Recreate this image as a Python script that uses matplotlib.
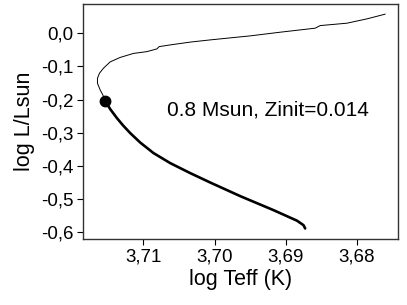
import matplotlib
matplotlib.use("Agg")
import matplotlib.pyplot as plt
from matplotlib.ticker import FuncFormatter

plt.rcParams['font.family'] = ['Liberation Sans', 'DejaVu Sans']

# thin part of the track (from the dot upwards)
teff_thin = [3.71539, 3.71571, 3.71609, 3.71647, 3.71647, 3.71619, 3.71563,
             3.71469, 3.71328, 3.71141, 3.70952, 3.70812, 3.70779, 3.70624,
             3.70343, 3.70062, 3.69500, 3.69077, 3.68585, 3.68515, 3.68139,
             3.67858, 3.67602]
lum_thin = [-0.2041, -0.1860, -0.1709, -0.1507, -0.1357, -0.1206, -0.1055,
            -0.0865, -0.0730, -0.0609, -0.0555, -0.0473, -0.0404, -0.0353,
            -0.0268, -0.0202, -0.0081, 0.0030, 0.0151, 0.0229, 0.0301,
            0.0431, 0.0573]

# thick part of the track (from the dot downwards)
teff_thick = [3.71539, 3.71469, 3.71374, 3.71286, 3.71187, 3.71046, 3.70859,
              3.70624, 3.70343, 3.70062, 3.69640, 3.69172, 3.68937, 3.68842,
              3.68750, 3.68726]
lum_thick = [-0.2041, -0.2282, -0.2554, -0.2780, -0.3006, -0.3292, -0.3609,
             -0.3911, -0.4212, -0.4495, -0.4905, -0.5327, -0.5553, -0.5644,
             -0.5779, -0.5879]

x_ticks = [3.71, 3.70, 3.69, 3.68]
y_ticks = [0.0, -0.1, -0.2, -0.3, -0.4, -0.5, -0.6]

fig = plt.figure(figsize=(4.07, 3.05), dpi=100)
ax = fig.add_axes([0.204, 0.216, 0.774, 0.771])

ax.plot(teff_thin, lum_thin, color='black', lw=0.7, solid_joinstyle='round')
ax.plot(teff_thick, lum_thick, color='black', lw=1.9,
        solid_capstyle='round', solid_joinstyle='round')
ax.plot(teff_thin[0], lum_thin[0], 'o', color='black', markersize=7.5)

ax.set_xlim(3.7185, 3.6742)
ax.set_ylim(-0.62, 0.088)
ax.set_xticks(x_ticks)
ax.set_yticks(y_ticks)

ax.xaxis.set_major_formatter(FuncFormatter(lambda v, p: ('%.2f' % v).replace('.', ',')))
ax.yaxis.set_major_formatter(FuncFormatter(lambda v, p: ('%.1f' % (0.0 if abs(v) < 1e-9 else v)).replace('.', ',')))

ax.tick_params(direction='out', length=4, width=0.8, labelsize=13.5, colors='black', pad=3)
for s in ax.spines.values():
    s.set_color('#333333')
    s.set_linewidth(1.0)

ax.set_xlabel('log Teff (K)', fontsize=15.5, labelpad=2)
ax.set_ylabel('log L/Lsun', fontsize=15.5, labelpad=4)

ax.text(0.266, 0.549, '0.8 Msun, Zinit=0.014', transform=ax.transAxes,
        fontsize=15, ha='left', va='center')

fig.savefig('out.png', dpi=100)
